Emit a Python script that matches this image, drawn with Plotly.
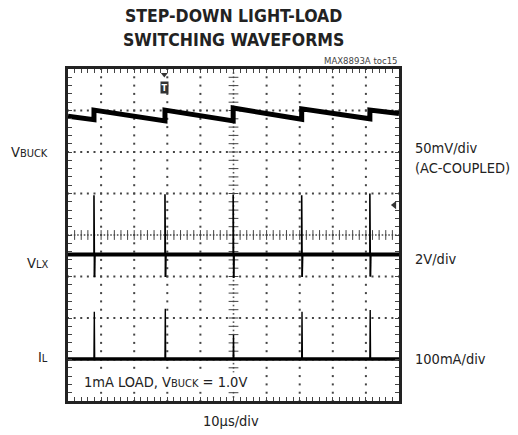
import numpy as np
import plotly.graph_objects as go

# ---------------- data ----------------
# time axis: 10 us/div, 10 divisions ; vertical: 8 divisions (-4..4)
switch_t = [7.85, 29.3, 49.9, 70.6, 91.2]          # us, switching events

vbuck_t = [0, 7.85, 7.85, 29.3, 29.3, 49.9, 49.9, 70.6, 70.6, 91.2, 91.2, 100]
vbuck_div = [2.86, 2.78, 3.01, 2.75, 3.01, 2.75, 3.06, 2.79, 3.04, 2.80, 3.01, 2.93]

vlx_base = -0.47
vlx_spike_hi = [0.96, 0.98, 0.97, 0.96, 1.00]
vlx_spike_lo = [-1.01, -1.01, -1.03, -1.01, -1.00]

il_base = -2.99
il_spike_hi = [-1.85, -1.78, -2.41, -1.85, -1.81]

trig_t = 29.1
gnd_marker_div = 0.72

# ---------------- geometry helpers ----------------
W, H = 518, 435
L, R, T, B = 68, 399, 69, 401
FONT = "DejaVu Sans Condensed, Liberation Sans Narrow, Arial Narrow, sans-serif"
LBL = 14.5


def px(xpix):
    return (xpix - L) / (R - L)


def py(ypix):
    return (B - ypix) / (B - T)


fig = go.Figure()

# ---------------- grid dots (every 0.2 div) ----------------
gx, gy = [], []
for xd in range(1, 10):
    if xd == 5:
        continue
    for k in range(0, 41):
        gx.append(xd * 10)
        gy.append(-4 + k * 0.2)
for yd in range(-3, 4):
    if yd == 0:
        continue
    for k in range(0, 51):
        gx.append(k * 2)
        gy.append(yd)
fig.add_trace(go.Scatter(x=gx, y=gy, mode="markers",
                         marker=dict(symbol="square", size=2, color="#444"),
                         hoverinfo="skip", showlegend=False))

# center crosshair (finer dots + tick marks)
cx = list(np.arange(0, 100.01, 1.0))
fig.add_trace(go.Scatter(x=cx, y=[0] * len(cx), mode="markers",
                         marker=dict(symbol="square", size=1.6, color="#555"),
                         hoverinfo="skip", showlegend=False))
cy = list(np.arange(-4, 4.001, 0.1))
fig.add_trace(go.Scatter(x=[50] * len(cy), y=cy, mode="markers",
                         marker=dict(symbol="square", size=1.6, color="#555"),
                         hoverinfo="skip", showlegend=False))
tx = list(np.arange(2, 99, 2.0))
fig.add_trace(go.Scatter(x=tx, y=[0] * len(tx), mode="markers",
                         marker=dict(symbol="line-ns", size=7,
                                     line=dict(width=1, color="#444")),
                         hoverinfo="skip", showlegend=False))
ty = list(np.arange(-3.8, 3.9, 0.2))
fig.add_trace(go.Scatter(x=[50] * len(ty), y=ty, mode="markers",
                         marker=dict(symbol="line-ew", size=7,
                                     line=dict(width=1, color="#444")),
                         hoverinfo="skip", showlegend=False))

# ---------------- waveforms ----------------
fig.add_trace(go.Scatter(x=vbuck_t, y=vbuck_div, mode="lines",
                         line=dict(color="black", width=5),
                         hoverinfo="skip", showlegend=False))

# VLX baseline + spikes
fig.add_trace(go.Scatter(x=[0, 100], y=[vlx_base, vlx_base], mode="lines",
                         line=dict(color="black", width=4),
                         hoverinfo="skip", showlegend=False))
sx, sy = [], []
for t, hi, lo in zip(switch_t, vlx_spike_hi, vlx_spike_lo):
    sx += [t, t, t + 0.15, t + 0.15, None]
    sy += [vlx_base, hi, hi, lo, None]
    sx += [t + 0.15, t + 0.3, None]
    sy += [lo, vlx_base, None]
fig.add_trace(go.Scatter(x=sx, y=sy, mode="lines",
                         line=dict(color="black", width=1.6),
                         hoverinfo="skip", showlegend=False))

# IL baseline + spikes
fig.add_trace(go.Scatter(x=[0, 100], y=[il_base, il_base], mode="lines",
                         line=dict(color="black", width=3.5),
                         hoverinfo="skip", showlegend=False))
ix, iy = [], []
for t, hi in zip(switch_t, il_spike_hi):
    ix += [t, t + 0.1, t + 0.2, None]
    iy += [il_base, hi, il_base, None]
fig.add_trace(go.Scatter(x=ix, y=iy, mode="lines",
                         line=dict(color="black", width=1.4),
                         hoverinfo="skip", showlegend=False))

# ground level marker on right edge
fig.add_trace(go.Scatter(x=[98.6], y=[gnd_marker_div], mode="markers",
                         marker=dict(symbol="triangle-left", size=7, color="#333"),
                         hoverinfo="skip", showlegend=False))

# trigger marker
fig.add_trace(go.Scatter(x=[trig_t], y=[3.87], mode="markers",
                         marker=dict(symbol="triangle-down", size=6, color="#333"),
                         hoverinfo="skip", showlegend=False))

annotations = []
annotations.append(dict(x=trig_t, y=py(81), xref="x", yref="paper",
                        text="<b>T</b>", showarrow=False,
                        font=dict(family=FONT, size=9, color="white"),
                        bgcolor="#333", borderpad=0, width=7, height=11))

# ---------------- text ----------------
annotations += [
    dict(x=px(233), y=py(16), xref="paper", yref="paper", text="<b>STEP-DOWN LIGHT-LOAD</b>",
         showarrow=False, font=dict(family=FONT, size=17.5, color="#222"), xanchor="center", yanchor="middle"),
    dict(x=px(233), y=py(40), xref="paper", yref="paper", text="<b>SWITCHING WAVEFORMS</b>",
         showarrow=False, font=dict(family=FONT, size=17.5, color="#222"), xanchor="center", yanchor="middle"),
    dict(x=px(400), y=py(61), xref="paper", yref="paper", text="MAX8893A toc15",
         showarrow=False, font=dict(family=FONT, size=9.5, color="#444"), xanchor="right", yanchor="middle"),
    dict(x=px(50), y=py(152), xref="paper", yref="paper",
         text="V<span style='font-size:11px'>BUCK</span>",
         showarrow=False, font=dict(family=FONT, size=LBL, color="#222"), xanchor="right", yanchor="middle"),
    dict(x=px(50), y=py(263), xref="paper", yref="paper",
         text="V<span style='font-size:11px'>LX</span>",
         showarrow=False, font=dict(family=FONT, size=LBL, color="#222"), xanchor="right", yanchor="middle"),
    dict(x=px(50), y=py(357), xref="paper", yref="paper",
         text="I<span style='font-size:11px'>L</span>",
         showarrow=False, font=dict(family=FONT, size=LBL, color="#222"), xanchor="right", yanchor="middle"),
    dict(x=px(413), y=py(148), xref="paper", yref="paper", text="50mV/div",
         showarrow=False, font=dict(family=FONT, size=LBL, color="#222"), xanchor="left", yanchor="middle"),
    dict(x=px(413), y=py(168), xref="paper", yref="paper", text="(AC-COUPLED)",
         showarrow=False, font=dict(family=FONT, size=LBL, color="#222"), xanchor="left", yanchor="middle"),
    dict(x=px(413), y=py(259), xref="paper", yref="paper", text="2V/div",
         showarrow=False, font=dict(family=FONT, size=LBL, color="#222"), xanchor="left", yanchor="middle"),
    dict(x=px(413), y=py(359), xref="paper", yref="paper", text="100mA/div",
         showarrow=False, font=dict(family=FONT, size=LBL, color="#222"), xanchor="left", yanchor="middle"),
    dict(x=px(231), y=py(421), xref="paper", yref="paper", text="10µs/div",
         showarrow=False, font=dict(family=FONT, size=LBL, color="#222"), xanchor="center", yanchor="middle"),
    dict(x=px(82), y=py(382), xref="paper", yref="paper",
         text="1mA LOAD, V<span style='font-size:11px'>BUCK</span> = 1.0V",
         showarrow=False, font=dict(family=FONT, size=LBL, color="#222"), xanchor="left", yanchor="middle",
         bgcolor="white", borderpad=1),
]

axis_common = dict(showline=True, linewidth=2.5, linecolor="#222", mirror="allticks",
                   showgrid=False, zeroline=False, showticklabels=False,
                   ticks="inside", ticklen=4, tickcolor="#444", tickwidth=1,
                   fixedrange=True)

fig.update_layout(
    width=W, height=H,
    margin=dict(l=L, r=W - R, t=T, b=H - B, pad=0),
    paper_bgcolor="white", plot_bgcolor="white",
    xaxis=dict(range=[0, 100], dtick=2, **axis_common),
    yaxis=dict(range=[-4, 4], dtick=0.2, **axis_common),
    annotations=annotations,
    showlegend=False,
)

fig.write_html("out.html", config={"displayModeBar": False},
               post_script="document.body.style.margin='0';document.body.style.padding='0';")
